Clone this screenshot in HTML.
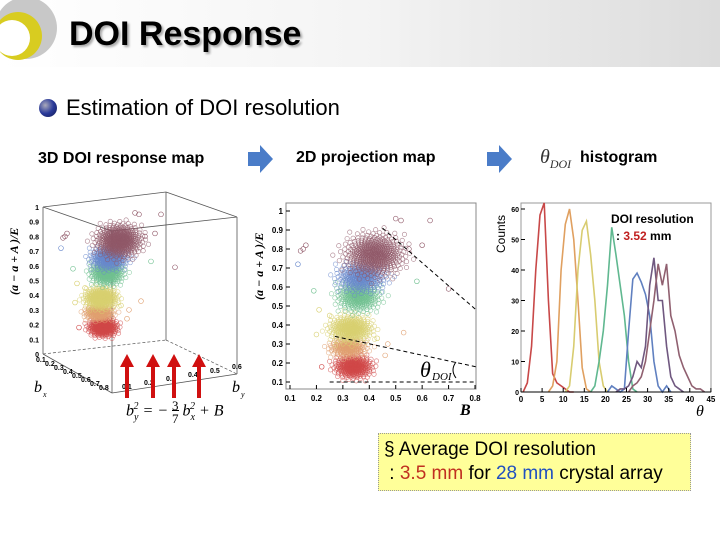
<!DOCTYPE html>
<html><head><meta charset="utf-8"><style>
body{margin:0;width:720px;height:540px;overflow:hidden;background:#fff;font-family:"Liberation Sans",sans-serif;position:relative}
.t{position:absolute;white-space:nowrap}
</style></head><body>
<div style="position:absolute;left:0;top:0;width:720px;height:67px;background:linear-gradient(90deg,#fff 0%,#f4f4f4 50%,#dcdcdc 100%)"></div>
<svg style="position:absolute;left:0;top:0" width="60" height="67"><circle cx="26" cy="28" r="31" fill="#c8c8c8"/><circle cx="18" cy="36" r="24" fill="#d8cc20"/><circle cx="12" cy="38" r="18" fill="#fff"/></svg>
<div class="t" style="left:69px;top:15px;font-size:34px;font-weight:bold;text-shadow:2px 2px 2px #aaa">DOI Response</div>
<div style="position:absolute;left:39px;top:99px;width:18px;height:18px;border-radius:50%;background:radial-gradient(circle at 35% 35%,#aab 0%,#2a3a9a 50%,#101850 100%)"></div>
<div class="t" style="left:66px;top:95px;font-size:22px">Estimation of DOI resolution</div>
<div class="t" style="left:38px;top:150px;font-size:16px;font-weight:bold">3D DOI response map</div>
<div class="t" style="left:296px;top:149px;font-size:16px;font-weight:bold">2D projection map</div>
<div class="t" style="left:540px;top:146px;font-size:20px;font-family:'Liberation Serif',serif;font-style:italic;color:#333">θ<sub style="font-size:12px">DOI</sub></div>
<div class="t" style="left:580px;top:149px;font-size:16px;font-weight:bold">histogram</div>
<svg style="position:absolute;left:0;top:0" width="720" height="540">
<polygon points="248,152 260,152 260,145 273,159 260,173 260,166 248,166" fill="#4a7cc8"/>
<polygon points="487,152 499,152 499,145 512,159 499,173 499,166 487,166" fill="#4a7cc8"/>
<g id="g3d"></g>
<g id="g2d"></g>
<g id="gh"></g>
</svg>
<div style="position:absolute;left:378px;top:433px;width:311px;height:56px;background:#ffff99;border:1px dotted #999"></div>
<div class="t" style="left:384px;top:439px;font-size:19px">§ Average DOI resolution</div>
<div class="t" style="left:384px;top:463px;font-size:19px">&nbsp;: <span style="color:#c03020">3.5 mm</span> for <span style="color:#2050c0">28 mm</span> crystal array</div>
<div class="t" style="left:611px;top:212px;font-size:12px;font-weight:bold">DOI resolution</div>
<div class="t" style="left:616px;top:229px;font-size:12px;font-weight:bold">: <span style="color:#c02020">3.52</span> mm</div>
<div class="t" style="left:126px;top:399px;font-size:16px;font-family:'Liberation Serif',serif;font-style:italic">b<sub style="font-size:10px">y</sub><sup style="font-size:10px;margin-left:-5px">2</sup> = − <span style="display:inline-block;vertical-align:middle;text-align:center;font-style:normal;font-size:13px;line-height:13px">3<br><span style="border-top:1px solid #000">7</span></span> b<sub style="font-size:10px">x</sub><sup style="font-size:10px;margin-left:-5px">2</sup> + B</div>
<script>
const NS="http://www.w3.org/2000/svg";
function mk(p,tag,a){const e=document.createElementNS(NS,tag);for(const k in a)e.setAttribute(k,a[k]);p.appendChild(e);return e;}
// ---------- shared scatter cluster data ----------
const clusterColors=["#d04848","#e0a070","#d8d070","#70c090","#6888cc","#905868"];
const clusterB=[0.34,0.32,0.33,0.36,0.37,0.42];
const clusterY=[0.18,0.28,0.38,0.55,0.65,0.77];
const clusterSdB=[0.035,0.035,0.04,0.04,0.045,0.055];
const clusterSdY=[0.03,0.025,0.035,0.04,0.038,0.055];
const clusterN=[300,200,330,290,290,450];
const outlierB=[0.14,0.15,0.16,0.13,0.2,0.22,0.25,0.5,0.52,0.55,0.6,0.63,0.7,0.47,0.53,0.46,0.43,0.21,0.19,0.58];
const outlierY=[0.79,0.8,0.82,0.72,0.35,0.18,0.45,0.96,0.95,0.8,0.82,0.95,0.59,0.3,0.36,0.24,0.33,0.48,0.58,0.63];
const outlierC=[5,5,5,4,2,0,2,5,5,5,5,5,5,1,1,1,2,2,3,3];
// ---------- 2D projection ----------
const g2=document.getElementById('g2d');
const x2=v=>290+(v-0.1)*264.3, y2=v=>382-(v-0.1)*190;
const xt2=[0.1,0.2,0.3,0.4,0.5,0.6,0.7,0.8], yt2=[0.1,0.2,0.3,0.4,0.5,0.6,0.7,0.8,0.9,1];
let r=mk(g2,'rect',{x:286,y:203,width:190,height:186,fill:'none',stroke:'#888'});

function pts(g,fx,fy){
 clusterB.forEach((b,c)=>{for(let i=0;i<clusterN[c];i++){const u=(i+0.5)/clusterN[c];const rad=Math.sqrt(-2*Math.log(1-u*0.985)),a=i*2.39996;
  const e=mk(g,'circle',{cx:fx(b+Math.cos(a)*rad*clusterSdB[c]),cy:fy(clusterY[c]+Math.sin(a)*rad*clusterSdY[c]),r:2.2,fill:'none',stroke:clusterColors[c],'stroke-width':0.6,opacity:0.75});
  }});
 outlierB.forEach((b,i)=>{const e=mk(g,'circle',{cx:fx(b),cy:fy(outlierY[i]),r:2.4,fill:'none',stroke:clusterColors[outlierC[i]],'stroke-width':0.6});
  });
}
pts(g2,x2,y2);
xt2.forEach(v=>{mk(g2,'line',{x1:x2(v),x2:x2(v),y1:389,y2:385,stroke:'#000'});const t=mk(g2,'text',{x:x2(v),y:401,'font-size':8,'font-weight':'bold','text-anchor':'middle'});t.textContent=v;});
yt2.forEach(v=>{mk(g2,'line',{x1:286,x2:290,y1:y2(v),y2:y2(v),stroke:'#000'});const t=mk(g2,'text',{x:283,y:y2(v)+3,'font-size':8,'font-weight':'bold','text-anchor':'end'});t.textContent=v;});
mk(g2,'line',{x1:x2(0.45),y1:y2(0.91),x2:476,y2:y2(0.48),stroke:'#000','stroke-dasharray':'4,3'});
mk(g2,'line',{x1:x2(0.27),y1:y2(0.34),x2:476,y2:y2(0.18),stroke:'#000','stroke-dasharray':'4,3'});
mk(g2,'line',{x1:x2(0.25),y1:y2(0.1),x2:476,y2:y2(0.1),stroke:'#000','stroke-dasharray':'4,3'});
mk(g2,'path',{d:'M456,362 Q450,370 456,378',fill:'none',stroke:'#000'});
let tt=mk(g2,'text',{x:420,y:377,'font-size':22,'font-style':'italic','font-family':'Liberation Serif'});tt.textContent='θ';
tt=mk(g2,'text',{x:432,y:380,'font-size':11,'font-style':'italic','font-family':'Liberation Serif'});tt.textContent='DOI';
tt=mk(g2,'text',{x:460,y:415,'font-size':16,'font-weight':'bold','font-style':'italic','font-family':'Liberation Serif'});tt.textContent='B';
tt=mk(g2,'text',{x:0,y:0,'font-size':12,'font-weight':'bold','font-style':'italic','font-family':'Liberation Serif',transform:'translate(263,300) rotate(-90)'});tt.textContent='(a  − a  + A )/E';
// ---------- 3D ----------
const g3=document.getElementById('g3d');
const x3=v=>105+(v-0.35)*200, y3=v=>354-v*147;
[[43,207,166,192],[166,192,237,217],[43,207,112,231],[112,231,237,217],[43,354,112,393],[112,393,237,374],[43,207,43,354],[166,192,166,340],[112,231,112,393],[237,217,237,374]].forEach(l=>mk(g3,'line',{x1:l[0],y1:l[1],x2:l[2],y2:l[3],stroke:'#555','stroke-width':0.8}));
mk(g3,'line',{x1:43,y1:354,x2:166,y2:340,stroke:'#555','stroke-dasharray':'3,2','stroke-width':0.7});
mk(g3,'line',{x1:166,y1:340,x2:237,y2:374,stroke:'#555','stroke-dasharray':'3,2','stroke-width':0.7});
pts(g3,x3,y3);
[0,0.1,0.2,0.3,0.4,0.5,0.6,0.7,0.8,0.9,1].forEach(v=>{const t=mk(g3,'text',{x:39,y:y3(v)+3,'font-size':7,'font-weight':'bold','text-anchor':'end'});t.textContent=v;});
['0.1','0.2','0.3','0.4','0.5','0.6'].forEach((s,i)=>{const t=mk(g3,'text',{x:122+i*22,y:389-i*4,'font-size':7,'font-weight':'bold'});t.textContent=s;});
['0.1','0.2','0.3','0.4','0.5','0.6','0.7','0.8'].forEach((s,i)=>{const t=mk(g3,'text',{x:36+i*9,y:362+i*4,'font-size':7,'font-weight':'bold'});t.textContent=s;});
tt=mk(g3,'text',{x:0,y:0,'font-size':12,'font-weight':'bold','font-style':'italic','font-family':'Liberation Serif',transform:'translate(18,295) rotate(-90)'});tt.textContent='(a  − a  + A )/E';
tt=mk(g3,'text',{x:34,y:392,'font-size':16,'font-style':'italic','font-family':'Liberation Serif'});tt.textContent='b';
tt=mk(g3,'text',{x:43,y:397,'font-size':8,'font-style':'italic','font-family':'Liberation Serif'});tt.textContent='x';
tt=mk(g3,'text',{x:232,y:392,'font-size':16,'font-style':'italic','font-family':'Liberation Serif'});tt.textContent='b';
tt=mk(g3,'text',{x:241,y:397,'font-size':8,'font-style':'italic','font-family':'Liberation Serif'});tt.textContent='y';
[127,153,174,199].forEach(x=>{const a=mk(g3,'polygon',{points:`${x-2},398 ${x+2},398 ${x+2},367 ${x+7},367 ${x},354 ${x-7},367 ${x-2},367`,fill:'#d01010'});});
// ---------- histogram ----------
const gh=document.getElementById('gh');
const seriesColors=["#c84848","#e0a060","#d8cc70","#60b890","#6080c0","#705880","#906070"];
const seriesStart=[0,6,10,16,20,22,25];
const seriesCounts=[
 [0,3,15,40,58,62,30,6,3,2,1,0,0],
 [0,2,10,40,55,60,50,30,8,1,0],
 [0,2,15,40,53,56,45,30,10,2,0],
 [0,2,10,20,35,54,45,35,25,10,1,0],
 [0,2,1,0,1,20,37,39,36,32,25,10,2,0,2,0],
 [0,1,1,2,5,10,8,15,35,44,30,30,15,5,2,1,0],
 [0,2,3,5,10,20,30,42,35,42,25,20,12,8,5,2,1,1,0]];
const xTicksH=[0,5,10,15,20,25,30,35,40,45], yTicksH=[0,10,20,30,40,50,60];
const xh=v=>521+v*4.22, yh=v=>392-v*3.05;
r=mk(gh,'rect',{x:521,y:203,width:190,height:189,fill:'none',stroke:'#999'});
seriesCounts.forEach((cs,s)=>{const p=mk(gh,'polyline',{points:cs.map((c,i)=>xh(seriesStart[s]+i+0.5)+','+yh(c)).join(' '),fill:'none',stroke:seriesColors[s],'stroke-width':1.6});});
mk(gh,'line',{x1:521,x2:711,y1:392,y2:392,stroke:'#000'});
xTicksH.forEach(v=>{mk(gh,'line',{x1:xh(v),x2:xh(v),y1:392,y2:388,stroke:'#000'});const t=mk(gh,'text',{x:xh(v),y:402,'font-size':8,'font-weight':'bold','text-anchor':'middle'});t.textContent=v;});
yTicksH.forEach(v=>{mk(gh,'line',{x1:521,x2:525,y1:yh(v),y2:yh(v),stroke:'#000'});const t=mk(gh,'text',{x:519,y:yh(v)+3,'font-size':7,'font-weight':'bold','text-anchor':'end'});t.textContent=v;});
tt=mk(gh,'text',{x:0,y:0,'font-size':12,transform:'translate(505,253) rotate(-90)'});tt.textContent='Counts';
tt=mk(gh,'text',{x:696,y:416,'font-size':16,'font-style':'italic','font-family':'Liberation Serif'});tt.textContent='θ';
</script>
</body></html>
